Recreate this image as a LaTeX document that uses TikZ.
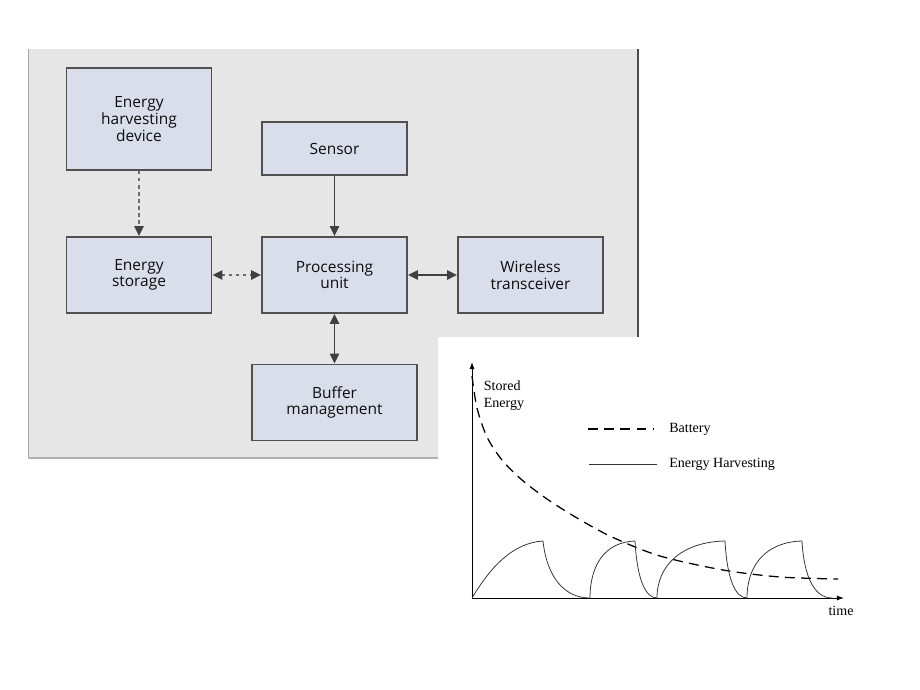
\documentclass[tikz,border=0pt]{standalone}
\usepackage{fontspec}
\setmainfont{Liberation Serif}
\newfontfamily\boxfont{Open Sans}
\usetikzlibrary{arrows.meta}
\definecolor{panelgray}{HTML}{E6E6E7}
\definecolor{boxfill}{HTML}{D9DEEA}
\definecolor{boxline}{HTML}{505050}
\definecolor{arrowgray}{HTML}{404040}
\tikzset{
  >={Triangle[length=7pt,width=6.5pt,color=arrowgray]},
  unitbox/.style={draw=boxline, line width=1.3pt, fill=boxfill, align=center,
    inner sep=0pt, text=black!95, font=\boxfont\fontsize{11}{11.8}\selectfont},
  link/.style={arrowgray, line width=1.4pt, ->},
  duplex/.style={arrowgray, line width=1.4pt, <->},
  dotlink/.style={draw=gray!85!black, line width=1.3pt, dash pattern=on 2.5pt off 2.5pt},
  axis/.style={line width=0.6pt, -{Latex[length=5pt,width=3.5pt]}},
  charge/.style={line width=0.55pt, black!80}
}
\begin{document}
\begin{tikzpicture}[x=0.025cm, y=-0.025cm]
\useasboundingbox (0,0) rectangle (920,690);
% block diagram panel
\fill[panelgray] (28,49) rectangle (638,458);
\draw[gray!70, line width=0.6pt] (28,49) -- (28,458);
\draw[gray!60, line width=1.4pt] (28,458) -- (438,458);
\draw[black!70, line width=1.8pt] (638,49) -- (638,337);
\fill[white] (438,337) rectangle (700,470);

\node[unitbox, minimum width=3.625cm, minimum height=2.55cm] (harv) at (139,119) {Energy\\harvesting\\device};
\node[unitbox, minimum width=3.625cm, minimum height=1.325cm] (sensor) at (334.5,148.5) {Sensor};
\node[unitbox, minimum width=3.625cm, minimum height=1.9cm] (storage) at (139,275) {Energy\\storage};
\node[unitbox, minimum width=3.625cm, minimum height=1.9cm] (proc) at (334.5,275) {Processing\\unit};
\node[unitbox, minimum width=3.625cm, minimum height=1.9cm] (radio) at (530.5,275) {Wireless\\transceiver};
\node[unitbox, minimum width=4.125cm, minimum height=1.9cm] (buffer) at (334.5,402.5) {Buffer\\management};

\draw[dotlink, ->] (harv) -- (storage);
\draw[dotlink, <->] (storage) -- (proc);
\draw[link] (sensor) -- (proc);
\draw[duplex] (proc) -- (radio);
\draw[duplex] (proc) -- (buffer);

% stored energy plot
\coordinate (o) at (472,598);
\coordinate (ytop) at (472,362);
\coordinate (xend) at (844,598);
\draw[axis] (o) -- (ytop);
\draw[axis] (o) -- (xend);
\node[align=left, font=\fontsize{10}{12}\selectfont, inner sep=0pt] (ylab) at (504,396) {Stored\\Energy};
\node[font=\fontsize{10}{12}\selectfont, inner sep=0pt] (xlab) at (841,611) {time};

\draw[line width=0.9pt, dash pattern=on 7pt off 4.5pt]
  plot[smooth] coordinates {(472,376) (477,408) (487,437) (502,460) (522,480)
    (547,499) (577,518) (612,537) (660,556) (723,570) (780,577) (838,579)};

\draw[charge] (o) .. controls (490,568) and (512,543) .. (543,541)
  .. controls (547,578) and (565,598) .. (590,598);
\foreach \a/\b/\c/\p/\q in {
            590/635/657/605/645,
            657/725/747/682/735,
            747/802/832/766/815
           }
  \draw[charge] (\a,598) .. controls (\a,565) and (\p,542) .. (\b,541)
    .. controls (\b+2,578) and (\q,598) .. (\c,598);

% legend
\coordinate (bat1) at (588,429);
\coordinate (bat2) at (653,429);
\coordinate (eh1) at (589,464);
\coordinate (eh2) at (657,464);
\draw[line width=0.9pt, dash pattern=on 7pt off 4.5pt] (bat1) -- (bat2);
\draw[charge] (eh1) -- (eh2);
\node[anchor=west, font=\fontsize{10}{12}\selectfont, inner sep=0pt] (batlab) at (669,429) {Battery};
\node[anchor=west, font=\fontsize{10}{12}\selectfont, inner sep=0pt] (ehlab) at (669,464) {Energy Harvesting};
\end{tikzpicture}
\end{document}
